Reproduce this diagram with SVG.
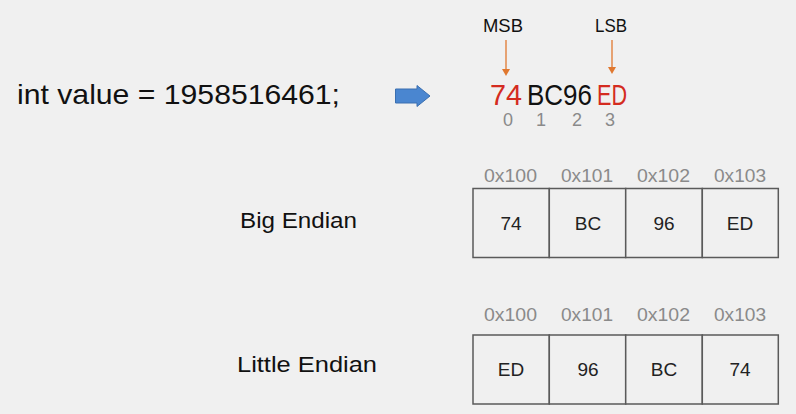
<svg xmlns="http://www.w3.org/2000/svg" width="796" height="414" viewBox="0 0 796 414">
<style>
text{font-family:"Liberation Sans","Open Sans",Arial,sans-serif;}
.lbl{font-size:22px;fill:#111;}
.addr{font-size:18px;fill:#8a8a8a;}
.cell{fill:#f0f0f0;stroke:#5a5a5a;stroke-width:1.5;}
.val{font-size:19px;fill:#222;text-anchor:middle;}
.idx{font-size:18px;fill:#8a8a8a;text-anchor:middle;}
.hex{font-size:30px;fill:#111;}
.red{fill:#d42b20;}
.oarrow{stroke:#e0782f;stroke-width:1.3;fill:none;}
.ohead{fill:#e0782f;}
</style>
<rect width="796" height="414" fill="#f0f0f0"/>

<g id="code">
<text x="17" y="104" font-size="28" fill="#111" textLength="323" lengthAdjust="spacingAndGlyphs">int value =  1958516461;</text>
</g>

<g id="arrow-blue">
<path d="M395.5,89 L417,89 L417,85.5 L430,96 L417,106.5 L417,103 L395.5,103 Z" fill="#4a86d0" stroke="#3a6fb0" stroke-width="1"/>
</g>

<g id="hexvalue">
<text class="hex red" x="490" y="105" textLength="32" lengthAdjust="spacingAndGlyphs">74</text>
<text class="hex" x="527" y="105" textLength="65" lengthAdjust="spacingAndGlyphs">BC96</text>
<text class="hex red" x="597" y="105" textLength="30" lengthAdjust="spacingAndGlyphs">ED</text>
<text class="idx" x="508" y="126">0</text>
<text class="idx" x="541" y="126">1</text>
<text class="idx" x="577" y="126">2</text>
<text class="idx" x="610" y="126">3</text>
</g>

<g id="msb">
<text x="483" y="32" font-size="18" fill="#111" textLength="40" lengthAdjust="spacingAndGlyphs">MSB</text>
</g>
<g id="lsb">
<text x="595" y="32" font-size="18" fill="#111" textLength="32" lengthAdjust="spacingAndGlyphs">LSB</text>
</g>

<g id="connectors">
<line class="oarrow" x1="506" y1="40" x2="506" y2="70"/>
<path class="ohead" d="M502,69 L510,69 L506,76 Z"/>
<line class="oarrow" x1="612" y1="40" x2="612" y2="68"/>
<path class="ohead" d="M608,67 L616,67 L612,74 Z"/>
</g>

<g id="big-endian">
<text class="lbl" x="240" y="228" textLength="117" lengthAdjust="spacingAndGlyphs">Big Endian</text>
<text class="addr" x="484" y="182" textLength="53" lengthAdjust="spacingAndGlyphs">0x100</text>
<text class="addr" x="561" y="182" textLength="52" lengthAdjust="spacingAndGlyphs">0x101</text>
<text class="addr" x="637" y="182" textLength="53" lengthAdjust="spacingAndGlyphs">0x102</text>
<text class="addr" x="714" y="182" textLength="52" lengthAdjust="spacingAndGlyphs">0x103</text>
<rect class="cell" x="473" y="188.5" width="76.3" height="69"/>
<rect class="cell" x="549.3" y="188.5" width="76.4" height="69"/>
<rect class="cell" x="625.7" y="188.5" width="76.6" height="69"/>
<rect class="cell" x="702.3" y="188.5" width="76" height="69"/>
<text class="val" x="511" y="230">74</text>
<text class="val" x="588" y="230">BC</text>
<text class="val" x="664" y="230">96</text>
<text class="val" x="740" y="230">ED</text>
</g>

<g id="little-endian">
<text class="lbl" x="237" y="372" textLength="140" lengthAdjust="spacingAndGlyphs">Little Endian</text>
<text class="addr" x="484" y="321" textLength="53" lengthAdjust="spacingAndGlyphs">0x100</text>
<text class="addr" x="561" y="321" textLength="52" lengthAdjust="spacingAndGlyphs">0x101</text>
<text class="addr" x="637" y="321" textLength="53" lengthAdjust="spacingAndGlyphs">0x102</text>
<text class="addr" x="714" y="321" textLength="52" lengthAdjust="spacingAndGlyphs">0x103</text>
<rect class="cell" x="473" y="335" width="76.3" height="69"/>
<rect class="cell" x="549.3" y="335" width="76.4" height="69"/>
<rect class="cell" x="625.7" y="335" width="76.6" height="69"/>
<rect class="cell" x="702.3" y="335" width="76" height="69"/>
<text class="val" x="511" y="376">ED</text>
<text class="val" x="588" y="376">96</text>
<text class="val" x="664" y="376">BC</text>
<text class="val" x="740" y="376">74</text>
</g>
</svg>
